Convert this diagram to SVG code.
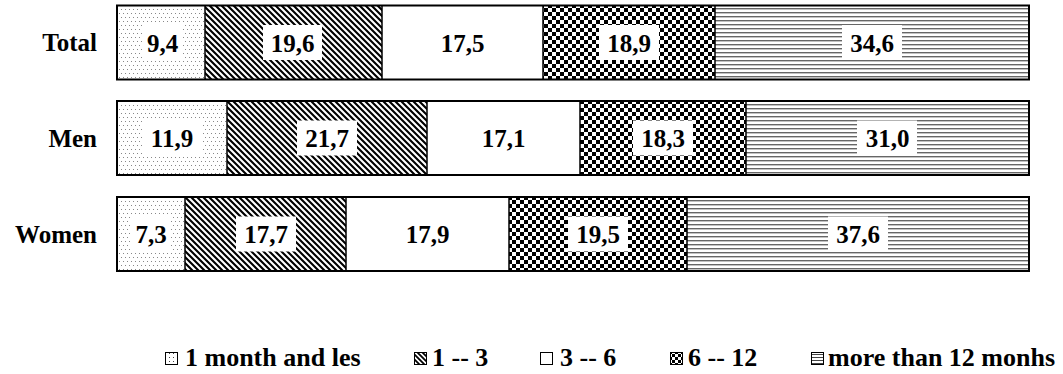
<svg xmlns="http://www.w3.org/2000/svg" width="1063" height="374" viewBox="0 0 1063 374">
<defs>
<style>
text{font-weight:700;font-size:25px;fill:#000}
.cat{text-anchor:end}
.val{text-anchor:middle}
.leg{font-size:26px}
.seg{stroke:#000;stroke-width:1.5}
.bar{fill:none;stroke:#000;stroke-width:2}
.box{fill:#fff}
.ico{stroke:#000;stroke-width:1}
</style>
<pattern id="pDots" width="4" height="8" patternUnits="userSpaceOnUse">
<rect width="4" height="8" fill="#fff"/>
<rect x="1" y="1" width="1" height="1" fill="#888"/>
<rect x="3" y="5" width="1" height="1" fill="#888"/>
</pattern>
<pattern id="pDiag" width="6" height="6" patternUnits="userSpaceOnUse">
<rect width="6" height="6" fill="#fff"/>
<path d="M-1,-1 L7,7 M-1,5 L1,7 M5,-1 L7,1" stroke="#000" stroke-width="2.1"/>
</pattern>
<pattern id="pCheck" width="8" height="8" patternUnits="userSpaceOnUse">
<rect width="8" height="8" fill="#fff"/>
<rect x="0" y="0" width="4" height="4" fill="#000"/>
<rect x="4" y="4" width="4" height="4" fill="#000"/>
</pattern>
<pattern id="pHoriz" width="4" height="4" patternUnits="userSpaceOnUse">
<rect width="4" height="4" fill="#fff"/>
<rect x="0" y="0" width="4" height="1.4" fill="#666"/>
</pattern>
<pattern id="iDots" width="4" height="4" patternUnits="userSpaceOnUse">
<rect width="4" height="4" fill="#fff"/>
<rect x="1" y="1" width="1" height="1" fill="#444"/>
</pattern>
<pattern id="iDiag" width="5" height="5" patternUnits="userSpaceOnUse">
<rect width="5" height="5" fill="#fff"/>
<path d="M-1,-1 L6,6 M-1,4 L1,6 M4,-1 L6,1" stroke="#000" stroke-width="1.8"/>
</pattern>
<pattern id="iCheck" width="6" height="6" patternUnits="userSpaceOnUse">
<rect width="6" height="6" fill="#fff"/>
<rect width="3" height="3" fill="#000"/>
<rect x="3" y="3" width="3" height="3" fill="#000"/>
</pattern>
<pattern id="iHoriz" width="3" height="3" patternUnits="userSpaceOnUse">
<rect width="3" height="3" fill="#fff"/>
<rect width="3" height="1" fill="#444"/>
</pattern>
</defs>
<rect width="1063" height="374" fill="#fff"/>

<g id="total">
<rect x="117" y="5.5" width="88" height="74" fill="url(#pDots)"/>
<rect x="205" y="5.5" width="177" height="74" fill="url(#pDiag)"/>
<rect x="382" y="5.5" width="161" height="74" fill="#fff"/>
<rect x="543" y="5.5" width="172" height="74" fill="url(#pCheck)"/>
<rect x="715" y="5.5" width="314" height="74" fill="url(#pHoriz)"/>
<path class="seg" d="M205,5.5V79.5M382,5.5V79.5M543,5.5V79.5M715,5.5V79.5"/>
<rect class="bar" x="117" y="5.5" width="912" height="74"/>
<text class="cat" x="97" y="51" style="font-family:'Liberation Serif',serif">Total</text>
<rect class="box" x="143" y="25" width="39" height="35"/>
<text class="val" x="162.5" y="52" style="font-family:'Liberation Serif',serif">9,4</text>
<rect class="box" x="263" y="25" width="59" height="35"/>
<text class="val" x="292.5" y="52" style="font-family:'Liberation Serif',serif">19,6</text>
<text class="val" x="462.5" y="52" style="font-family:'Liberation Serif',serif">17,5</text>
<rect class="box" x="599" y="25" width="60" height="35"/>
<text class="val" x="629" y="52" style="font-family:'Liberation Serif',serif">18,9</text>
<rect class="box" x="842" y="25" width="60" height="35"/>
<text class="val" x="872" y="52" style="font-family:'Liberation Serif',serif">34,6</text>
</g>

<g id="men">
<rect x="117" y="101" width="110" height="74" fill="url(#pDots)"/>
<rect x="227" y="101" width="200" height="74" fill="url(#pDiag)"/>
<rect x="427" y="101" width="153" height="74" fill="#fff"/>
<rect x="580" y="101" width="166" height="74" fill="url(#pCheck)"/>
<rect x="746" y="101" width="283" height="74" fill="url(#pHoriz)"/>
<path class="seg" d="M227,101V175M427,101V175M580,101V175M746,101V175"/>
<rect class="bar" x="117" y="101" width="912" height="74"/>
<text class="cat" x="97" y="147" style="font-family:'Liberation Serif',serif">Men</text>
<rect class="box" x="142" y="120.5" width="60" height="35"/>
<text class="val" x="172" y="147" style="font-family:'Liberation Serif',serif">11,9</text>
<rect class="box" x="297" y="120.5" width="60" height="35"/>
<text class="val" x="327" y="147" style="font-family:'Liberation Serif',serif">21,7</text>
<text class="val" x="503.5" y="147" style="font-family:'Liberation Serif',serif">17,1</text>
<rect class="box" x="633" y="120.5" width="60" height="35"/>
<text class="val" x="663" y="147" style="font-family:'Liberation Serif',serif">18,3</text>
<rect class="box" x="857" y="120.5" width="60" height="35"/>
<text class="val" x="887.5" y="147" style="font-family:'Liberation Serif',serif">31,0</text>
</g>

<g id="women">
<rect x="117" y="197" width="68" height="74" fill="url(#pDots)"/>
<rect x="185" y="197" width="161" height="74" fill="url(#pDiag)"/>
<rect x="346" y="197" width="163" height="74" fill="#fff"/>
<rect x="509" y="197" width="178" height="74" fill="url(#pCheck)"/>
<rect x="687" y="197" width="342" height="74" fill="url(#pHoriz)"/>
<path class="seg" d="M185,197V271M346,197V271M509,197V271M687,197V271"/>
<rect class="bar" x="117" y="197" width="912" height="74"/>
<text class="cat" x="97" y="243" style="font-family:'Liberation Serif',serif">Women</text>
<rect class="box" x="131" y="216.5" width="40" height="35"/>
<text class="val" x="151" y="243" style="font-family:'Liberation Serif',serif">7,3</text>
<rect class="box" x="236" y="216.5" width="60" height="35"/>
<text class="val" x="266" y="243" style="font-family:'Liberation Serif',serif">17,7</text>
<text class="val" x="427.5" y="243" style="font-family:'Liberation Serif',serif">17,9</text>
<rect class="box" x="568" y="216.5" width="60" height="35"/>
<text class="val" x="598" y="243" style="font-family:'Liberation Serif',serif">19,5</text>
<rect class="box" x="828" y="216.5" width="60" height="35"/>
<text class="val" x="858" y="243" style="font-family:'Liberation Serif',serif">37,6</text>
</g>

<g id="legend">
<rect class="ico" x="165.5" y="352.5" width="12" height="12" fill="url(#iDots)"/>
<text class="leg" x="185" y="366" style="font-family:'Liberation Serif',serif">1 month and les</text>
<rect class="ico" x="414.5" y="352.5" width="12" height="12" fill="url(#iDiag)"/>
<text class="leg" x="432" y="366" style="font-family:'Liberation Serif',serif">1 -- 3</text>
<rect class="ico" x="540.5" y="352.5" width="12" height="12" fill="#fff"/>
<text class="leg" x="560" y="366" style="font-family:'Liberation Serif',serif">3 -- 6</text>
<rect class="ico" x="670.5" y="352.5" width="12" height="12" fill="url(#iCheck)"/>
<text class="leg" x="688" y="366" style="font-family:'Liberation Serif',serif">6 -- 12</text>
<rect class="ico" x="811.5" y="352.5" width="12" height="12" fill="url(#iHoriz)"/>
<text class="leg" x="828" y="366" style="font-family:'Liberation Serif',serif">more than 12 monhs</text>
</g>
</svg>
